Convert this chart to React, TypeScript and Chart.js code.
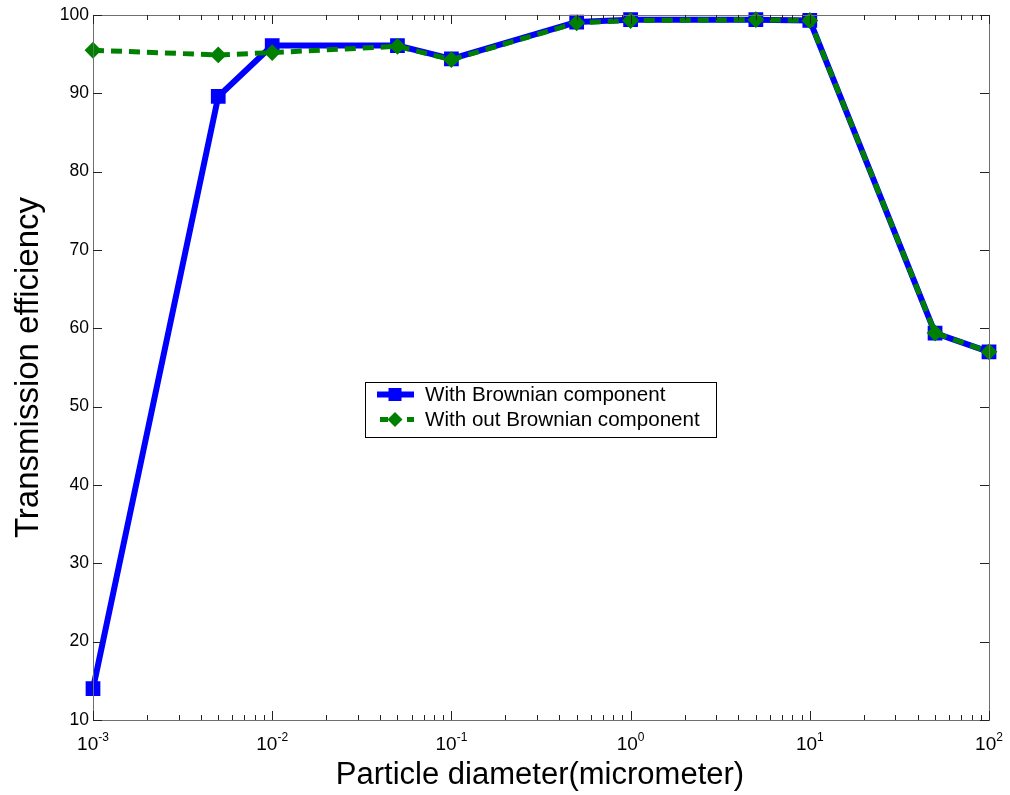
import React, { useEffect, useRef } from "react";
import { Chart, registerables } from "chart.js";

Chart.register(...registerables);

const particleDiameters = [0.001, 0.005, 0.01, 0.05, 0.1, 0.5, 1, 5, 10, 50, 100];
const withBrownian = [14.0, 89.6, 96.1, 96.1, 94.4, 99.1, 99.4, 99.4, 99.3, 59.4, 57.0];
const withoutBrownian = [95.5, 94.9, 95.2, 96.0, 94.3, 99.0, 99.3, 99.4, 99.3, 59.4, 57.0];
const yTickValues = [10, 20, 30, 40, 50, 60, 70, 80, 90, 100];
const xMajorExponents = [-3, -2, -1, 0, 1, 2];
const seriesLabels = ["With Brownian component", "With out Brownian component"];
const xTitle = "Particle diameter(micrometer)";
const yTitle = "Transmission efficiency";

const FONT = "'Liberation Sans', Arial, sans-serif";
const BLUE = "#0000ff";
const GREEN = "#008000";

const framePlugin = {
  id: "framePlugin",
  afterDraw(chart: any) {
    const ctx = chart.ctx;
    const { left, right, top, bottom } = chart.chartArea;
    const xs = chart.scales.x;
    const ys = chart.scales.y;
    ctx.save();
    // frame
    ctx.strokeStyle = "#6e6e6e";
    ctx.lineWidth = 1;
    ctx.strokeRect(left + 0.5, top + 0.5, right - left, bottom - top);

    // x ticks (major + minor) bottom & top
    ctx.strokeStyle = "#222";
    ctx.beginPath();
    for (let e = -3; e <= 2; e++) {
      for (let m = 1; m <= 9; m++) {
        const v = m * Math.pow(10, e);
        if (v > 100.0001) break;
        const px = Math.round(xs.getPixelForValue(v)) + 0.5;
        const len = m === 1 ? 9 : 5;
        ctx.moveTo(px, bottom);
        ctx.lineTo(px, bottom - len);
        ctx.moveTo(px, top);
        ctx.lineTo(px, top + len);
      }
    }
    // y ticks left & right
    for (const v of yTickValues) {
      const py = Math.round(ys.getPixelForValue(v)) + 0.5;
      ctx.moveTo(left, py);
      ctx.lineTo(left + 9, py);
      ctx.moveTo(right, py);
      ctx.lineTo(right - 9, py);
    }
    ctx.stroke();

    // y tick labels
    ctx.fillStyle = "#000";
    ctx.font = `17.5px ${FONT}`;
    ctx.textAlign = "right";
    ctx.textBaseline = "middle";
    for (const v of yTickValues) {
      ctx.fillText(String(v), left - 4, ys.getPixelForValue(v));
    }

    // x tick labels with superscripts
    for (const e of xMajorExponents) {
      const px = xs.getPixelForValue(Math.pow(10, e));
      ctx.font = `19px ${FONT}`;
      const baseW = ctx.measureText("10").width;
      ctx.font = `12px ${FONT}`;
      const supW = ctx.measureText(String(e)).width;
      const total = baseW + supW;
      const x0 = px - total / 2;
      ctx.textAlign = "left";
      ctx.textBaseline = "alphabetic";
      ctx.font = `19px ${FONT}`;
      ctx.fillText("10", x0, bottom + 30);
      ctx.font = `12px ${FONT}`;
      ctx.fillText(String(e), x0 + baseW, bottom + 21);
    }

    // axis titles
    ctx.font = `31px ${FONT}`;
    ctx.textAlign = "center";
    ctx.textBaseline = "middle";
    ctx.fillText(xTitle, (left + right) / 2 - 1, bottom + 55);
    ctx.save();
    ctx.font = `33px ${FONT}`;
    ctx.translate(left - 64, (top + bottom) / 2);
    ctx.rotate(-Math.PI / 2);
    ctx.fillText(yTitle, 0, 0);
    ctx.restore();

    // legend
    const lx = 365, ly = 382, lw = 351, lh = 55;
    ctx.fillStyle = "#fff";
    ctx.fillRect(lx, ly, lw, lh);
    ctx.strokeStyle = "#000";
    ctx.lineWidth = 1;
    ctx.strokeRect(lx + 0.5, ly + 0.5, lw, lh);

    const rows = [
      { y: ly + 12.5, color: BLUE, dash: [] as number[], width: 6, style: "rect" },
      { y: ly + 37.5, color: GREEN, dash: [8, 19], width: 5, style: "rectRot" },
    ];
    rows.forEach((row, i) => {
      ctx.save();
      ctx.strokeStyle = row.color;
      ctx.lineWidth = row.width;
      ctx.setLineDash(row.dash);
      ctx.beginPath();
      ctx.moveTo(i === 0 ? 377 : 380, row.y);
      ctx.lineTo(414, row.y);
      ctx.stroke();
      ctx.setLineDash([]);
      ctx.fillStyle = row.color;
      const mx = 395;
      if (row.style === "rect") {
        ctx.fillRect(mx - 6.5, row.y - 6.5, 13, 13);
      } else {
        ctx.beginPath();
        ctx.moveTo(mx - 7.5, row.y);
        ctx.lineTo(mx, row.y - 7.5);
        ctx.lineTo(mx + 7.5, row.y);
        ctx.lineTo(mx, row.y + 7.5);
        ctx.closePath();
        ctx.fill();
      }
      ctx.restore();
      ctx.fillStyle = "#000";
      ctx.font = `20.6px ${FONT}`;
      ctx.textAlign = "left";
      ctx.textBaseline = "middle";
      ctx.fillText(seriesLabels[i], 425, row.y + 1);
    });
    ctx.restore();
  },
};

export default function App() {
  const canvasRef = useRef<HTMLCanvasElement | null>(null);

  useEffect(() => {
    if (!canvasRef.current) return;
    const chart = new Chart(canvasRef.current, {
      type: "line",
      data: {
        datasets: [
          {
            label: seriesLabels[0],
            data: particleDiameters.map((x, i) => ({ x, y: withBrownian[i] })),
            borderColor: BLUE,
            backgroundColor: BLUE,
            borderWidth: 6,
            pointStyle: "rect",
            pointRadius: 9,
            pointBorderWidth: 2,
            pointBackgroundColor: BLUE,
            pointBorderColor: BLUE,
            tension: 0,
            order: 2,
            clip: false,
          },
          {
            label: seriesLabels[1],
            data: particleDiameters.map((x, i) => ({ x, y: withoutBrownian[i] })),
            borderColor: GREEN,
            backgroundColor: GREEN,
            borderWidth: 5,
            borderDash: [11, 7],
            pointStyle: "rectRot",
            pointRadius: 7,
            pointBorderWidth: 2,
            pointBackgroundColor: GREEN,
            pointBorderColor: GREEN,
            tension: 0,
            order: 1,
            clip: false,
          },
        ],
      },
      options: {
        animation: false,
        responsive: false,
        maintainAspectRatio: false,
        layout: { padding: { left: 93, right: 21, top: 15, bottom: 75 } },
        plugins: { legend: { display: false }, tooltip: { enabled: false } },
        scales: {
          x: { type: "logarithmic", min: 0.001, max: 100, display: false },
          y: { type: "linear", min: 10, max: 100, display: false },
        },
      },
      plugins: [framePlugin],
    });
    return () => chart.destroy();
  }, []);

  return (
    <div style={{ position: "fixed", left: 0, top: 0, width: 1010, height: 795, background: "#fff" }}>
      <canvas ref={canvasRef} width={1010} height={795} style={{ width: 1010, height: 795 }} />
    </div>
  );
}
